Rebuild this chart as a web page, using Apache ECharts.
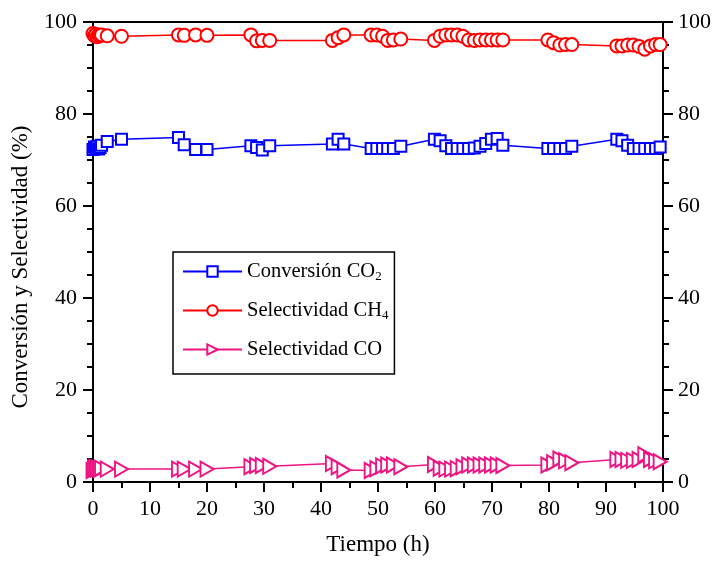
<!DOCTYPE html>
<html>
<head>
<meta charset="utf-8">
<script src="https://cdn.jsdelivr.net/npm/echarts@6/dist/echarts.min.js"></script>
<style>
html,body{margin:0;padding:0;background:#fff;}
#chart{width:717px;height:561px;}
</style>
</head>
<body>
<div id="chart"></div>
<script>
// Time (h)
const times = [0,0.25,0.5,0.75,1,1.25,1.5, 2.5,5, 15,16,18,20, 27.7,28.7,29.7,31, 42,43,44,
  48.8,49.8,50.8,51.7,52.7,54, 59.9,60.9,61.9,62.9,63.9,64.9,65.9,66.9,67.9,68.9,69.9,70.9,71.9,
  79.8,80.8,81.9,82.9,84, 91.9,92.8,93.8,94.8,95.8,96.8,97.8,98.7,99.5];
// Conversión CO2 (%)
const conversionCO2 = [72.3,72.8,72.5,73.0,72.4,72.7,73.2, 74.0,74.5, 74.9,73.3,72.3,72.3, 73.1,72.7,72.2,73.1, 73.5,74.5,73.5,
  72.5,72.5,72.5,72.5,72.5,73.0, 74.5,74.2,73.1,72.5,72.5,72.5,72.5,72.6,73.0,73.6,74.5,74.7,73.2,
  72.5,72.5,72.5,72.5,73.0, 74.5,74.2,73.2,72.5,72.5,72.5,72.5,72.5,72.8];
// Selectividad CH4 (%)
const selectividadCH4 = [97.5,97.0,97.3,96.8,97.2,97.0,97.2, 97.0,96.9, 97.2,97.1,97.2,97.1, 97.2,95.9,96.0,96.0, 96.0,96.6,97.2,
  97.2,97.2,96.9,96.0,96.1,96.3, 96.0,96.9,97.2,97.2,97.2,96.9,96.1,96.0,96.1,96.1,96.1,96.1,96.1,
  96.1,95.5,95.0,95.1,95.1, 94.8,94.8,95.0,95.0,94.7,94.1,94.8,95.1,95.1];
// Selectividad CO (%)
const selectividadCO = [2.5,3.0,3.2,2.8,3.0,2.7,3.0, 2.8,2.8, 2.8,2.8,2.8,2.8, 3.3,3.6,3.6,3.4, 4.0,3.3,2.6,
  2.5,2.9,3.5,3.7,3.7,3.3, 3.8,3.0,2.8,2.8,2.9,3.3,3.7,3.7,3.7,3.7,3.7,3.7,3.6,
  3.7,4.2,5.0,4.6,4.2, 4.9,4.9,4.7,4.7,4.9,5.9,4.9,4.6,4.4];

const pair = (ys) => times.map((t, i) => [t, ys[i]]);
const FONT = 'Liberation Serif';
const BLUE = '#0000ff', RED = '#ff0000', PINK = '#ec1583';

const chart = echarts.init(document.getElementById('chart'), null, {renderer: 'canvas'});
const tickStyle = {color: '#000', width: 2};
const axisCommon = {
  min: 0, max: 100,
  axisLine: {show: true, onZero: false, lineStyle: {color: '#000', width: 2}},
  splitLine: {show: false}
};
const richText = {
  n: {fontFamily: FONT, fontSize: 20.5, color: '#000', lineHeight: 24},
  s: {fontFamily: FONT, fontSize: 13, color: '#000', lineHeight: 13, verticalAlign: 'bottom'}
};
const mkSeries = (name, ys, color, symbol, size, rot) => ({
  name, type: 'line', data: pair(ys), xAxisIndex: 0, yAxisIndex: 0,
  symbol, symbolSize: size, symbolRotate: rot || 0, showAllSymbol: true,
  lineStyle: {color, width: 1.5},
  itemStyle: {color: '#fff', borderColor: color, borderWidth: 2},
  emphasis: {disabled: true}, animation: false, clip: false
});
chart.setOption({
  animation: false,
  backgroundColor: '#fff',
  grid: {left: 93, right: 54, top: 22, bottom: 79, containLabel: false},
  xAxis: [
    Object.assign({}, axisCommon, {
      type: 'value', position: 'bottom', interval: 10,
      name: 'Tiempo (h)', nameLocation: 'middle', nameGap: 51,
      nameTextStyle: {fontFamily: FONT, fontSize: 23, color: '#000'},
      axisTick: {show: true, inside: false, length: 10, lineStyle: tickStyle},
      minorTick: {show: true, splitNumber: 2, length: 6, lineStyle: tickStyle},
      axisLabel: {color: '#000', fontFamily: FONT, fontSize: 22, margin: 16}
    }),
    Object.assign({}, axisCommon, {
      type: 'value', position: 'top', interval: 10,
      axisTick: {show: false}, axisLabel: {show: false}
    })
  ],
  yAxis: [
    Object.assign({}, axisCommon, {
      type: 'value', position: 'left', interval: 20,
      name: 'Conversión y Selectividad (%)', nameLocation: 'middle', nameGap: 61,
      nameTextStyle: {fontFamily: FONT, fontSize: 23, color: '#000', padding: [0, 30, 0, 0]},
      axisTick: {show: true, inside: false, length: 10, lineStyle: tickStyle},
      minorTick: {show: true, splitNumber: 4, length: 6, lineStyle: tickStyle},
      axisLabel: {color: '#000', fontFamily: FONT, fontSize: 22, margin: 16}
    }),
    Object.assign({}, axisCommon, {
      type: 'value', position: 'right', interval: 20,
      axisTick: {show: true, inside: false, length: 10, lineStyle: tickStyle},
      minorTick: {show: true, splitNumber: 4, length: 6, lineStyle: tickStyle},
      axisLabel: {color: '#000', fontFamily: FONT, fontSize: 22, margin: 15}
    })
  ],
  legend: {
    orient: 'vertical', left: 173, top: 252,
    padding: [9, 6, 14, 9],
    itemWidth: 59, itemHeight: 13, itemGap: 16.5,
    borderColor: '#000', borderWidth: 1.5, backgroundColor: '#fff',
    textStyle: {fontFamily: FONT, fontSize: 20.5, color: '#000', rich: richText},
    formatter: function (name) {
      if (name === 'Conversión CO2') return '{n|Conversión CO}{s|2}';
      if (name === 'Selectividad CH4') return '{n|Selectividad CH}{s|4}';
      return '{n|' + name + '}';
    },
    data: ['Conversión CO2', 'Selectividad CH4', 'Selectividad CO']
  },
  series: [
    mkSeries('Conversión CO2', conversionCO2, BLUE, 'rect', 11),
    mkSeries('Selectividad CH4', selectividadCH4, RED, 'circle', 13),
    mkSeries('Selectividad CO', selectividadCO, PINK, 'triangle', [15, 13], -90)
  ]
});
</script>
</body>
</html>
